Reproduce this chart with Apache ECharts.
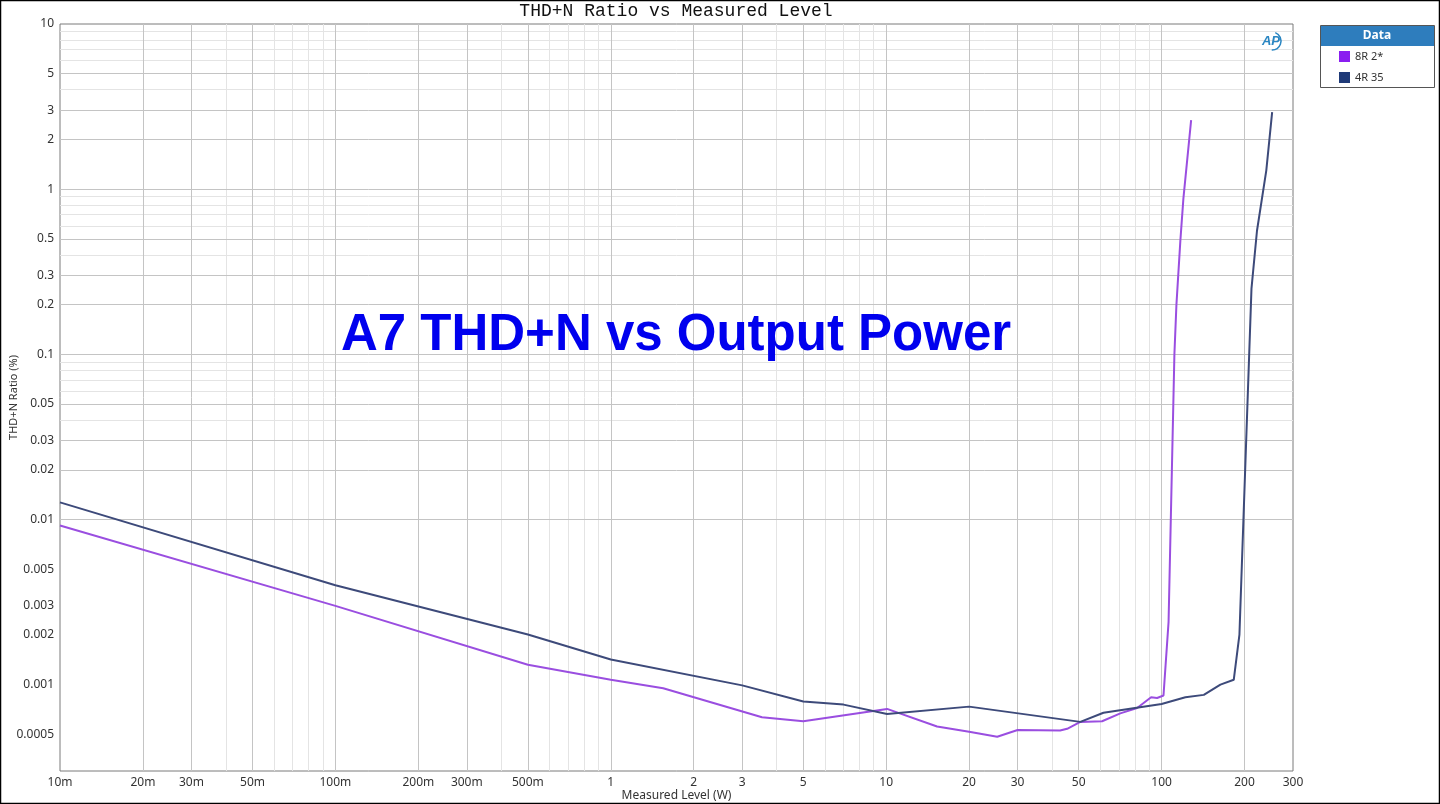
<!DOCTYPE html>
<html><head><meta charset="utf-8">
<script src="https://cdn.jsdelivr.net/npm/echarts@6/dist/echarts.min.js"></script>
<style>html,body{margin:0;padding:0;background:#fff}#c{width:1440px;height:804px}</style>
</head><body><div id="c"></div>
<script>
// ---- data ----
const xTickValues = [0.01,0.02,0.03,0.05,0.1,0.2,0.3,0.5,1,2,3,5,10,20,30,50,100,200,300];
const xTickLabels = ['10m','20m','30m','50m','100m','200m','300m','500m','1','2','3','5','10','20','30','50','100','200','300'];
const yTickValues = [0.0005,0.001,0.002,0.003,0.005,0.01,0.02,0.03,0.05,0.1,0.2,0.3,0.5,1,2,3,5,10];
const yTickLabels = ['0.0005','0.001','0.002','0.003','0.005','0.01','0.02','0.03','0.05','0.1','0.2','0.3','0.5','1','2','3','5','10'];
const xMinorGrid = [0.04,0.06,0.07,0.08,0.09,0.4,0.6,0.7,0.8,0.9,4,6,7,8,9,40,60,70,80,90];
const yMinorGrid = [0.0004,0.0006,0.0007,0.0008,0.0009,0.004,0.006,0.007,0.008,0.009,0.04,0.06,0.07,0.08,0.09,0.4,0.6,0.7,0.8,0.9,4,6,7,8,9];

const seriesNames = ['8R 2*','4R 35'];
const level8R = [0.01,0.1,0.5,1,1.55,3.54,5,10.07,15.3,20,25.3,30,42.8,45.4,50.7,60.8,70.8,81.5,91.6,96.3,101.6,106,111.3,113.2,117,120,128];
const thd8R   = [0.0092,0.0030,0.00132,0.00107,0.00095,0.000634,0.0006,0.000713,0.000558,0.000519,0.000484,0.000531,0.000527,0.00054,0.000595,0.0006,0.00067,0.000722,0.000838,0.00083,0.000859,0.0024,0.1,0.2,0.49,0.88,2.62];
const level4R = [0.01,0.1,0.5,1,3,5,7,10.07,20,50.7,61.5,100,122,142.3,163.5,182.8,191.7,212,222,240,252];
const thd4R   = [0.0127,0.0040,0.00201,0.00142,0.00099,0.00079,0.000757,0.000664,0.000736,0.000595,0.000676,0.000764,0.000838,0.000867,0.001,0.00107,0.00201,0.25,0.56,1.3,2.93];

// ---- build ----
const zip = (a,b) => a.map((v,i)=>[v,b[i]]);
function labelFor(vals, labs){
  return function(v){
    for (let i=0;i<vals.length;i++){ if (Math.abs(Math.log10(v)-Math.log10(vals[i]))<1e-6) return labs[i]; }
    return '';
  };
}
const X_MIN=0.01, X_MAX=300, Y_MIN=0.0003, Y_MAX=10;
const majorColor='#c4c4c4', minorColor='#e4e4e4';
const gridLines = [];
xMinorGrid.forEach(v=>gridLines.push({xAxis:v,lineStyle:{color:minorColor,width:1,type:'solid'}}));
yMinorGrid.forEach(v=>gridLines.push({yAxis:v,lineStyle:{color:minorColor,width:1,type:'solid'}}));
xTickValues.filter(v=>v>X_MIN&&v<X_MAX).forEach(v=>gridLines.push({xAxis:v,lineStyle:{color:majorColor,width:1,type:'solid'}}));
yTickValues.filter(v=>v>Y_MIN&&v<Y_MAX).forEach(v=>gridLines.push({yAxis:v,lineStyle:{color:majorColor,width:1,type:'solid'}}));

const lblFont = 'Noto Sans, sans-serif';
const chart = echarts.init(document.getElementById('c'));
chart.setOption({
  animation:false,
  backgroundColor:'#fff',
  grid:{left:60,right:147,top:24,bottom:33,containLabel:false,outerBoundsMode:'none',
    show:true,borderColor:'#7a7a7a',borderWidth:1,backgroundColor:'transparent'},
  xAxis:{type:'log',logBase:10,min:X_MIN,max:X_MAX,
    name:'Measured Level (W)',nameLocation:'middle',nameGap:19,nameMoveOverlap:false,
    nameTextStyle:{fontFamily:lblFont,fontSize:12,color:'#333'},
    axisLine:{show:false},axisTick:{show:false},splitLine:{show:false},minorSplitLine:{show:false},
    axisLabel:{customValues:xTickValues,formatter:labelFor(xTickValues,xTickLabels),margin:6,
      fontFamily:lblFont,fontSize:12,color:'#333',showMinLabel:true,showMaxLabel:true,hideOverlap:false}},
  yAxis:{type:'log',logBase:10,min:Y_MIN,max:Y_MAX,
    name:'THD+N Ratio (%)',nameLocation:'middle',nameGap:41,nameMoveOverlap:false,
    nameTextStyle:{fontFamily:lblFont,fontSize:11,color:'#333'},
    axisLine:{show:false},axisTick:{show:false},splitLine:{show:false},minorSplitLine:{show:false},
    axisLabel:{customValues:yTickValues,formatter:labelFor(yTickValues,yTickLabels),margin:6,
      fontFamily:lblFont,fontSize:12,color:'#333',hideOverlap:false}},
  legend:{show:true,orient:'vertical',left:1339,top:51,padding:0,itemWidth:11,itemHeight:11,itemGap:10,icon:'rect',
    textStyle:{fontFamily:lblFont,fontSize:11,color:'#333'},selectedMode:false,
    data:[{name:seriesNames[0],itemStyle:{color:'#8a1ef0'}},{name:seriesNames[1],itemStyle:{color:'#1f3a78'}}]},
  series:[
    {name:'grid',type:'line',data:[],silent:true,z:1,
      markLine:{silent:true,z:1,symbol:['none','none'],label:{show:false},animation:false,
        emphasis:{disabled:true},data:gridLines}},
    {name:seriesNames[0],type:'line',data:zip(level8R,thd8R),showSymbol:false,symbol:'none',z:3,
      lineStyle:{width:2,color:'#9a4ee0'},itemStyle:{color:'#9a4ee0'}},
    {name:seriesNames[1],type:'line',data:zip(level4R,thd4R),showSymbol:false,symbol:'none',z:4,
      lineStyle:{width:2,color:'#3d4a7a'},itemStyle:{color:'#3d4a7a'}}
  ],
  graphic:[
    {type:'rect',z:0,shape:{x:0.5,y:0.5,width:1439,height:803},style:{fill:'none',stroke:'#000',lineWidth:1.5}},
    {type:'text',z:10,x:676,y:11,style:{text:'THD+N Ratio vs Measured Level',font:'18px "Liberation Mono", monospace',fill:'#111',align:'center',verticalAlign:'middle'}},
    {type:'text',z:10,x:676,y:336,style:{text:'A7 THD+N vs Output Power',font:'bold 51px "Liberation Sans", Arial, sans-serif',fill:'#0000ee',align:'center',verticalAlign:'middle'}},
    {type:'rect',z:1,shape:{x:1320.5,y:25.5,width:114,height:62},style:{fill:'#fff',stroke:'#555',lineWidth:1}},
    {type:'rect',z:2,shape:{x:1321,y:26,width:113,height:20},style:{fill:'#2e7dbd'}},
    {type:'text',z:3,x:1377,y:36,style:{text:'Data',font:'bold 12px "Noto Sans", sans-serif',fill:'#fff',align:'center',verticalAlign:'middle'}},
    {type:'text',z:10,x:1271,y:41,style:{text:'AP',font:'italic bold 13px "Liberation Sans", sans-serif',fill:'#2a86c2',align:'center',verticalAlign:'middle'}},
    {type:'arc',z:10,shape:{cx:1272,cy:41,r:9,startAngle:-1.2,endAngle:1.6},style:{stroke:'#2a86c2',lineWidth:1.5,fill:'none'}}
  ]
});
</script></body></html>
